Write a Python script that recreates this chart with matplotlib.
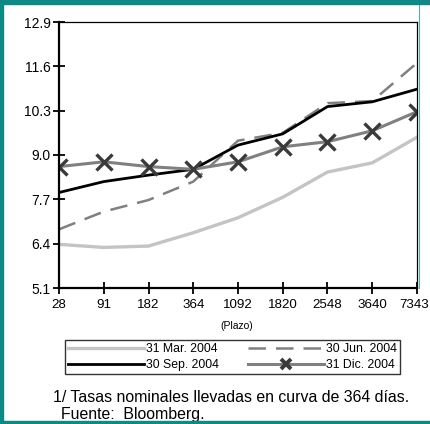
import matplotlib.pyplot as plt
from matplotlib.lines import Line2D
from matplotlib.patches import Rectangle
from matplotlib.transforms import ScaledTranslation

plt.rcParams['font.family'] = ['Liberation Sans', 'DejaVu Sans']

# Plazo (days) and yield curves at each date
plazos = ['28', '91', '182', '364', '1092', '1820', '2548', '3640', '7343']
mar_2004 = [6.38, 6.29, 6.33, 6.72, 7.16, 7.76, 8.50, 8.77, 9.52]
jun_2004 = [6.82, 7.34, 7.68, 8.22, 9.42, 9.65, 10.52, 10.58, 11.70]
sep_2004 = [7.90, 8.22, 8.41, 8.58, 9.29, 9.62, 10.42, 10.56, 10.93]
dic_2004 = [8.66, 8.80, 8.66, 8.58, 8.80, 9.24, 9.39, 9.71, 10.27]
yticks = [5.1, 6.4, 7.7, 9.0, 10.3, 11.6, 12.9]

teal = '#0d8a86'

fig = plt.figure(figsize=(4.30, 4.24), dpi=100)
ax = fig.add_axes([59 / 430, 1 - 288 / 424, 358 / 430, 266 / 424])

x = range(len(plazos))
l_mar, = ax.plot(x, mar_2004, color='#c4c4c4', lw=2.4)
l_jun, = ax.plot(x, jun_2004, color='#808080', lw=1.8, dashes=(7, 4))
l_sep, = ax.plot(x, sep_2004, color='black', lw=2.0)
l_dic, = ax.plot(x, dic_2004, color='#808080', lw=2.2, marker='x', ms=11,
                 mec='#3a3a3a', mew=2.4)

ax.set_xlim(0, len(plazos) - 1)
ax.set_ylim(5.1, 12.9)
ax.set_xticks(list(x))
ax.set_xticklabels(plazos)
ax.set_yticks(yticks)
ax.set_yticklabels([f'{v:.1f}' for v in yticks])
ax.tick_params(direction='inout', length=8, width=1.3, labelsize=10, pad=4)
ax.tick_params(axis='x', labelsize=9.6)
ax.tick_params(axis='y', pad=2)
for side in ('left', 'bottom'):
    ax.spines[side].set_linewidth(1.6)
for side in ('top', 'right'):
    ax.spines[side].set_linewidth(0.9)

# nudge the last plazo label so it stays inside the page
last = ax.get_xticklabels()[-1]
last.set_transform(last.get_transform() + ScaledTranslation(-3 / 100, 0, fig.dpi_scale_trans))

fig.text(237 / 430, 1 - 326 / 424, '(Plazo)', fontsize=7.5, ha='center', va='center')

# legend keys: smaller cross for the December curve
key_dic = Line2D([], [], color='#808080', lw=2.2, marker='x', ms=7,
                 mec='#3a3a3a', mew=2.8)
leg = fig.legend([l_mar, l_sep, l_jun, key_dic],
                 ['31 Mar. 2004', '30 Sep. 2004', '30 Jun. 2004', '31 Dic. 2004'],
                 ncol=2, loc='upper left', mode='expand',
                 bbox_to_anchor=(65 / 430, 1 - 375 / 424, 335 / 430, 35 / 424),
                 fontsize=8.8, frameon=True, fancybox=False, handlelength=6.2,
                 handletextpad=0.15, columnspacing=1.9, borderpad=0.25,
                 labelspacing=0.35, numpoints=1, borderaxespad=0)
leg.get_frame().set_edgecolor('black')
leg.get_frame().set_linewidth(1.0)

fig.text(53 / 430, 1 - 397 / 424, '1/ Tasas nominales llevadas en curva de 364 días.',
         fontsize=11.4, ha='left', va='center')
fig.text(61 / 430, 1 - 415 / 424, 'Fuente:  Bloomberg.',
         fontsize=11.4, ha='left', va='center')

# teal page border
fig.patches.append(Rectangle((0, 1 - 4 / 424), 1, 4 / 424, transform=fig.transFigure,
                             color=teal, zorder=5))
fig.patches.append(Rectangle((0, 0), 3 / 430, 1, transform=fig.transFigure,
                             color=teal, zorder=5))
fig.patches.append(Rectangle((0, 0), 1, 3 / 424, transform=fig.transFigure,
                             color=teal, zorder=5))
fig.lines.append(Line2D([418.5 / 430, 418.5 / 430], [1 - 288 / 424, 1], transform=fig.transFigure,
                        color=teal, lw=0.8, alpha=0.7))

fig.savefig('out.png', dpi=100)
